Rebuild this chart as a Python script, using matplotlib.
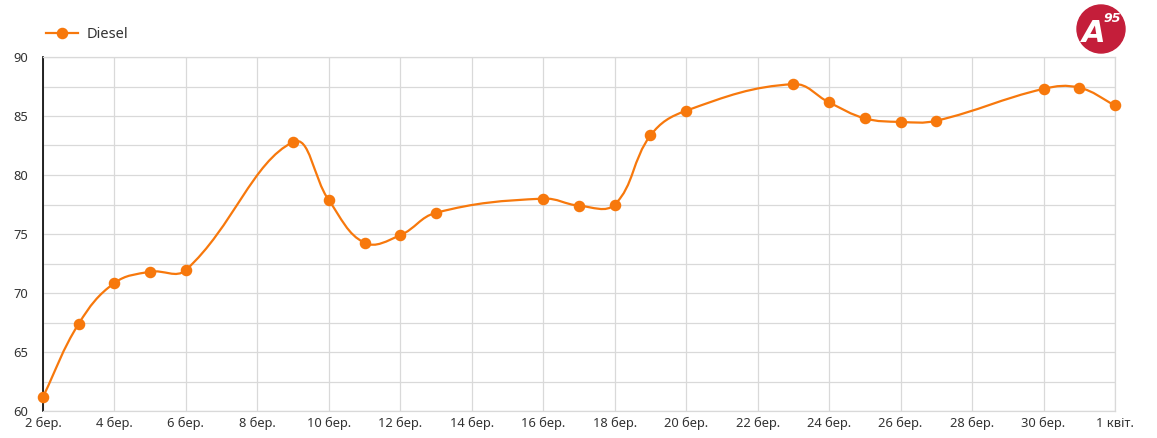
import matplotlib
matplotlib.use("Agg")
import matplotlib.pyplot as plt
from matplotlib.path import Path
from matplotlib.patches import PathPatch, Ellipse
from matplotlib.lines import Line2D
import numpy as np

plt.rcParams['font.family'] = ['Noto Sans', 'DejaVu Sans']

# days counted from 1 March (1 квіт. = 32)
days = [2, 3, 4, 5, 6, 9, 10, 11, 12, 13, 16, 17, 18, 19, 20, 23, 24, 25, 26, 27, 30, 31, 32]
diesel = [61.2, 67.4, 70.85, 71.8, 71.95, 82.8, 77.85, 74.25, 74.9, 76.8, 78.0, 77.4, 77.5,
          83.35, 85.45, 87.7, 86.15, 84.8, 84.5, 84.6, 87.3, 87.4, 85.9]
tick_days = [2, 4, 6, 8, 10, 12, 14, 16, 18, 20, 22, 24, 26, 28, 30, 32]
tick_labels = ['2 бер.', '4 бер.', '6 бер.', '8 бер.', '10 бер.', '12 бер.', '14 бер.', '16 бер.',
               '18 бер.', '20 бер.', '22 бер.', '24 бер.', '26 бер.', '28 бер.', '30 бер.', '1 квіт.']

ORANGE = '#f7780c'

fig = plt.figure(figsize=(11.57, 4.38), dpi=100)
ax = fig.add_axes([43 / 1157, 27 / 438, 1072 / 1157, 354 / 438])

# smooth curve like chart.js (tension 0.4), computed in pixel space
sx, sy = 1072 / 30, 354 / 30
px = np.array(days) * sx
py = np.array(diesel) * sy
t = 0.4
n = len(px)
verts = [(days[0], diesel[0])]
codes = [Path.MOVETO]
cps = []
for i in range(n):
    p0 = (px[max(i - 1, 0)], py[max(i - 1, 0)])
    p2 = (px[min(i + 1, n - 1)], py[min(i + 1, n - 1)])
    d01 = np.hypot(px[i] - p0[0], py[i] - p0[1])
    d12 = np.hypot(p2[0] - px[i], p2[1] - py[i])
    s01 = d01 / (d01 + d12) if d01 + d12 else 0
    s12 = d12 / (d01 + d12) if d01 + d12 else 0
    fa, fb = t * s01, t * s12
    prev_cp = (px[i] - fa * (p2[0] - p0[0]), py[i] - fa * (p2[1] - p0[1]))
    next_cp = (px[i] + fb * (p2[0] - p0[0]), py[i] + fb * (p2[1] - p0[1]))
    cps.append((prev_cp, next_cp))
for i in range(1, n):
    c1 = cps[i - 1][1]
    c2 = cps[i][0]
    verts += [(c1[0] / sx, c1[1] / sy), (c2[0] / sx, c2[1] / sy), (days[i], diesel[i])]
    codes += [Path.CURVE4] * 3
ax.add_patch(PathPatch(Path(verts, codes), fill=False, edgecolor=ORANGE, lw=1.6, zorder=3))
ax.plot(days, diesel, 'o', color=ORANGE, markersize=7.3, zorder=4, clip_on=False)

ax.set_xlim(2, 32)
ax.set_ylim(60, 90)
ax.set_xticks(tick_days)
ax.set_xticklabels(tick_labels)
ax.set_yticks(np.arange(60, 91, 5))
ax.set_yticks(np.arange(60, 91, 2.5), minor=True)
ax.grid(True, which='both', axis='y', color='#d9d9d9', lw=0.9)
ax.grid(True, which='major', axis='x', color='#d9d9d9', lw=0.9)
ax.tick_params(axis='both', which='both', length=0, labelsize=9.3, colors='#333333')
ax.tick_params(axis='y', pad=11)
ax.tick_params(axis='x', pad=4)
for s in ['top', 'right', 'bottom']:
    ax.spines[s].set_color('#d9d9d9')
    ax.spines[s].set_linewidth(0.9)
ax.spines['left'].set_color('black')
ax.spines['left'].set_linewidth(1.2)
ax.set_axisbelow(True)

handle = Line2D([], [], color=ORANGE, lw=1.6, marker='o', markersize=7.3)
fig.legend([handle], ['Diesel'], loc='center left', bbox_to_anchor=(0.028, 0.922),
           frameon=False, fontsize=10.5, handlelength=2.2, handletextpad=0.6,
           labelcolor='#333333')

# logo
fig.patches.append(Ellipse((1101 / 1157, 1 - 29 / 438), 48 / 1157, 48 / 438,
                           transform=fig.transFigure, color='#c41e3a', zorder=5))
fig.text(1094 / 1157, 1 - 33 / 438, 'A', transform=fig.transFigure, color='white',
         fontsize=22, fontweight='heavy', style='italic', family='DejaVu Sans',
         ha='center', va='center', zorder=6)
fig.text(1112 / 1157, 1 - 19 / 438, '95', transform=fig.transFigure, color='white',
         fontsize=9, fontweight='bold', style='italic', family='DejaVu Sans',
         ha='center', va='center', zorder=6)

fig.savefig('out.png', dpi=100, facecolor='white')
